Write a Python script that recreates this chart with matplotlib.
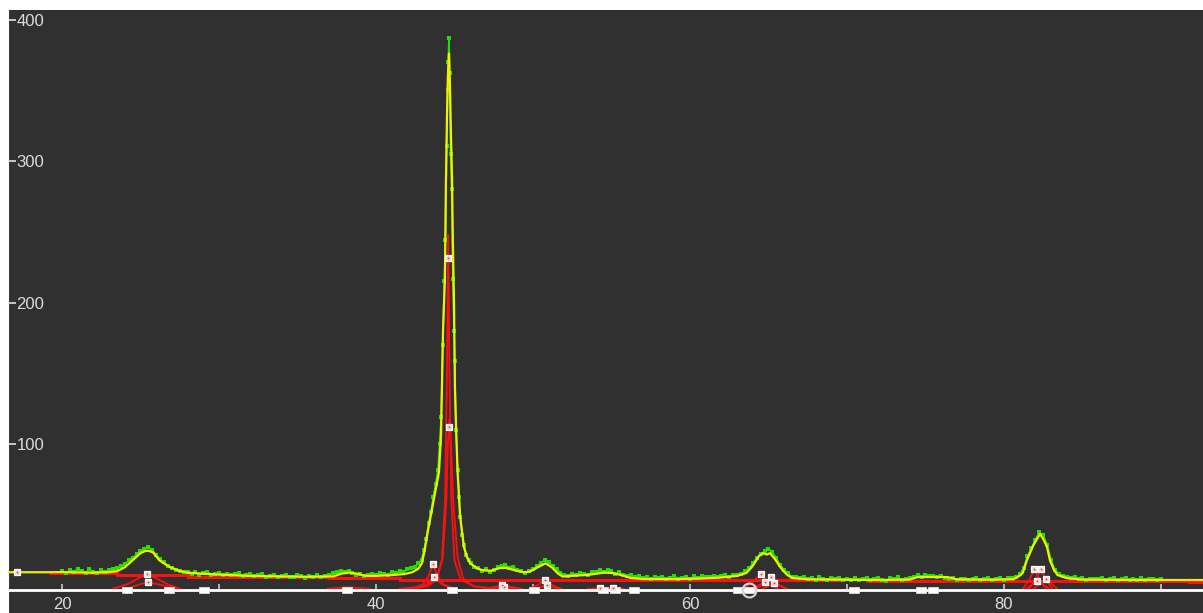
import numpy as np
import matplotlib
matplotlib.use("Agg")
from matplotlib import pyplot as plt

# fitted profile (yellow line)
fit_x = [16.5, 19.0, 20.0, 21.0, 22.0, 23.0, 23.5, 24.0, 24.3, 24.7, 25.0, 25.3, 25.5, 25.8,
         26.2, 26.6, 26.9, 27.5, 28.0, 28.8, 30.0, 32.0, 34.0, 36.0, 37.3, 37.8, 38.3, 38.8,
         39.3, 40.0, 41.0, 41.8, 42.3, 42.7, 42.93, 43.1, 43.31, 43.5, 43.7, 44.01, 44.14,
         44.27, 44.39, 44.45, 44.52, 44.58, 44.65, 44.71, 44.78, 44.84, 44.90, 44.97, 45.03,
         45.10, 45.20, 45.35, 45.48, 45.61, 45.8, 45.99, 46.4, 46.75, 47.3, 47.9, 48.3, 48.8,
         49.4, 49.8, 50.3, 50.8, 51.2, 51.6, 51.9, 52.5, 53.5, 54.5, 55.0, 55.6, 56.2, 57.0,
         59.0, 61.0, 62.0, 63.0, 63.6, 64.0, 64.4, 64.65, 64.9, 65.1, 65.4, 65.7, 65.9, 66.2,
         66.56, 67.5, 70.0, 72.0, 74.0, 74.5, 76.4, 77.0, 79.0, 80.6, 81.0, 81.2, 81.46, 81.85,
         82.1, 82.3, 82.5, 82.74, 82.93, 83.15, 83.4, 84.0, 85.0, 88.0, 92.7]
fit_y = [9.5, 9.5, 9.6, 9.4, 9.2, 9.6, 10.2, 13.0, 16.0, 20.0, 23.0, 24.5, 24.7, 23.5,
         18.0, 15.0, 13.0, 10.4, 9.2, 8.6, 7.8, 6.9, 6.5, 6.3, 6.6, 8.5, 9.2, 8.5,
         7.0, 6.9, 7.5, 8.2, 9.5, 12.0, 16.0, 25.0, 39.0, 50.0, 62.0, 80.0, 105.0,
         180.0, 216.0, 280.0, 330.0, 360.0, 376.0, 355.0, 317.0, 290.0, 241.0, 200.0, 140.0,
         112.0, 80.0, 50.0, 38.0, 27.0, 20.0, 16.0, 12.5, 11.0, 10.5, 12.5, 12.6, 11.0,
         9.5, 9.9, 13.0, 15.8, 13.0, 8.5, 6.4, 7.0, 7.6, 9.2, 9.0, 7.6, 5.5, 4.7,
         4.6, 5.2, 5.8, 6.9, 9.0, 14.0, 21.0, 23.0, 22.0, 23.0, 19.0, 14.0, 11.0, 7.5,
         5.4, 4.5, 4.2, 4.0, 4.3, 6.1, 6.1, 4.5, 4.2, 4.5, 7.0, 9.0, 18.0, 28.0,
         33.0, 36.5, 33.0, 27.6, 18.0, 12.0, 7.6, 5.4, 4.3, 4.0, 4.0]

# measured counts (green), 0.25 deg steps from 20.0 to 42.25
obs_left = [10.5, 8.7, 11.2, 9.8, 12.0, 10.3, 9.1, 11.5, 10.0, 8.8, 10.9, 9.6,
            10.8, 11.6, 12.4, 13.9, 15.6, 17.9, 19.5, 22.3, 24.8, 26.1, 27.4, 25.2, 22.0, 18.7,
            16.5, 13.9, 12.8, 11.2, 10.6, 9.8,
            9.9, 8.1, 9.4, 7.6, 8.8, 9.9, 7.9, 8.3, 9.2, 7.4, 8.6, 7.2, 8.1, 9.0, 6.9, 7.7,
            8.2, 6.5, 7.4, 8.6, 6.1, 7.0, 7.9, 5.9, 6.8, 7.6, 6.2, 5.8, 7.3, 6.6, 5.5, 7.1,
            6.4, 7.2, 5.9, 6.8, 7.5, 8.9, 9.8, 10.4, 9.6, 10.1, 8.8, 7.4, 8.2, 6.9, 7.8, 8.6,
            7.3, 9.2, 8.1, 7.6, 9.9, 8.7, 10.4, 9.5, 11.6, 12.3]
# measured counts around the main reflection
peak_obs_x = [42.5, 42.7, 42.9, 43.05, 43.2, 43.35, 43.5, 43.65, 43.8, 43.95, 44.05, 44.15,
              44.25, 44.35, 44.42, 44.5, 44.56, 44.6, 44.65, 44.7, 44.75, 44.82, 44.9, 44.97,
              45.01, 45.1, 45.2, 45.3, 45.38, 45.5, 45.6, 45.75, 45.9, 46.05, 46.25]
peak_obs_y = [13.5, 15.8, 18.5, 25.0, 33.0, 44.0, 52.0, 63.0, 72.0, 82.0, 100.0, 119.0,
              170.0, 215.0, 244.0, 311.0, 350.0, 370.0, 387.0, 362.0, 305.0, 280.0, 217.0, 180.0,
              159.0, 110.0, 82.0, 63.0, 48.6, 36.0, 29.0, 22.0, 18.0, 16.0, 13.0]
# measured counts, 0.25 deg steps from 46.5 to 90.0
obs_right = [12.4, 10.6, 11.8, 9.9, 11.3, 12.9, 13.8, 14.9, 12.6, 13.4, 11.2, 10.1, 8.8, 10.5,
             11.8, 13.9, 16.1, 18.0, 16.4, 14.2, 11.5, 9.3, 7.8, 6.9, 8.4, 7.2, 9.1, 8.0, 7.5, 9.6,
             9.9, 10.8, 9.5, 11.2, 10.1, 8.6, 9.4, 7.9, 6.6, 7.4, 5.8, 6.9, 5.5, 6.2, 4.8, 5.9,
             5.2, 6.4, 4.6, 5.6, 6.8, 4.9, 5.4, 6.1, 4.7, 6.6, 5.3, 6.9, 5.8, 6.4, 7.1, 6.0,
             6.8, 7.5, 6.3, 7.9, 7.2, 8.4, 10.1, 12.3, 15.8, 19.6, 22.5, 24.2, 26.0, 24.1, 19.3, 14.8,
             11.2, 8.8, 6.4, 5.8, 5.1, 5.9, 4.6, 5.5, 4.2, 5.8, 4.9, 3.9, 5.3, 4.4, 5.7, 4.1,
             5.0, 4.3, 5.6, 3.8, 4.7, 5.4, 3.9, 4.8, 5.5, 4.2, 3.6, 5.1, 4.5, 5.8, 4.0, 4.9,
             5.3, 6.4, 7.2, 6.0, 7.5, 6.6, 7.0, 5.9, 6.8, 5.2, 4.6, 5.5, 4.1, 5.0, 4.4, 3.9,
             4.8, 5.6, 4.0, 4.5, 5.3, 3.8, 4.9, 5.7, 4.2, 5.2, 5.2, 5.9, 8.2, 12.5, 20.8, 26.6,
             32.4, 37.8, 35.6, 28.9, 18.4, 11.2, 8.6, 6.9, 6.0, 5.4, 6.1, 4.7, 5.5, 4.2, 5.0, 4.6,
             4.4, 5.3, 3.9, 4.8, 5.6, 4.1, 4.6, 5.2, 3.8, 4.9, 4.3, 5.5, 4.0, 4.7, 4.4, 3.9, 4.6]

# stepped background (red)
bg_edges = [19.2, 23.5, 28.0, 37.0, 41.5, 69.6, 71.3, 91.8, 92.7]
bg_levels = [9.0, 7.6, 6.3, 5.4, 3.8, 4.5, 3.6, 2.8]

# fitted peak components (red), one (x, y) pair per component
comps = [
    ([23.25, 24.2, 24.9, 25.41, 25.95, 26.7, 27.52], [-2.3, 1.2, 5.5, 8.3, 5.5, 1.2, -2.3]),
    ([24.14, 24.9, 25.48, 26.2, 27.3], [-2.0, 0.8, 2.6, 0.8, -2.0]),
    ([36.9, 37.6, 38.15, 38.8, 39.6], [-2.2, -1.6, -1.0, -1.6, -2.2]),
    ([41.5, 43.0, 43.8, 44.2, 44.4, 44.52, 44.6, 44.68, 44.8, 45.0, 45.4, 46.3, 47.8],
     [-2.2, -0.5, 4, 18, 60, 150, 248, 150, 60, 18, 4, -0.5, -2.2]),
    ([42.0, 43.3, 43.9, 44.25, 44.48, 44.58, 44.68, 44.78, 44.92, 45.2, 45.55, 46.2, 47.5],
     [-2.2, -0.5, 5, 20, 60, 100, 118, 100, 60, 20, 5, -0.5, -2.2]),
    ([42.3, 43.0, 43.35, 43.63, 43.9, 44.3, 45.0], [-2.2, 1, 7, 15, 7, 1, -2.2]),
    ([42.6, 43.2, 43.7, 44.2, 44.8], [-2.2, 1, 6, 1, -2.2]),
    ([46.9, 47.6, 48.05, 48.6, 49.3], [-2.2, -0.8, 0.5, -0.8, -2.2]),
    ([47.3, 48.17, 49.0], [-2.2, -1.1, -2.2]),
    ([49.8, 50.3, 50.76, 51.2, 51.8], [-2.2, 0.5, 3.8, 0.5, -2.2]),
    ([50.1, 50.88, 51.6], [-2.2, 0.3, -2.2]),
    ([53.5, 54.27, 55.0], [-2.2, -1.8, -2.2]),
    ([54.4, 55.1, 55.8], [-2.2, -1.6, -2.2]),
    ([63.4, 64.0, 64.5, 65.0, 65.6], [-2.2, 2.5, 8.3, 2.5, -2.2]),
    ([63.9, 64.75, 65.6], [-2.2, 2.4, -2.2]),
    ([64.2, 64.7, 65.16, 65.6, 66.2], [-2.2, 1.0, 5.9, 1.0, -2.2]),
    ([64.6, 65.35, 66.1], [-2.2, 1.7, -2.2]),
    ([81.2, 81.6, 81.93, 82.3, 82.7], [-2.2, 3.5, 11.6, 3.5, -2.2]),
    ([81.6, 82.0, 82.34, 82.7, 83.1], [-2.2, 3.5, 11.6, 3.5, -2.2]),
    ([81.4, 82.12, 82.9], [-2.2, 3.5, -2.2]),
    ([81.9, 82.66, 83.4], [-2.2, 4.7, -2.2]),
]

# handles on the components / baseline
handle_x = [17.13, 25.41, 25.48, 44.57, 44.65, 43.65, 43.71, 48.05, 48.17, 50.76, 50.88,
            54.27, 55.1, 64.5, 64.75, 65.16, 65.35, 81.93, 82.34, 82.12, 82.66]
handle_y = [9.5, 8.3, 2.6, 231.8, 112.2, 15.1, 5.9, 0.5, -1.1, 3.8, 0.3,
            -1.8, -1.6, 8.3, 2.4, 5.9, 1.7, 11.6, 11.6, 3.5, 4.7]
bound_x = [24.14, 26.82, 29.04, 38.15, 44.84, 50.06, 54.46, 55.22, 56.43, 63.06, 63.76,
           70.45, 74.71, 75.48]
cursor_x = 63.76

AXIS_Y = -3.0
BG = "#303030"
FG = "#dcdcdc"

fig = plt.figure(figsize=(12.03, 6.13), dpi=100)
fig.patch.set_facecolor("white")
ax = fig.add_axes([8 / 1203, 0, 1195 / 1203, 603 / 613])
ax.set_facecolor(BG)
ax.set_xlim(16.56, 92.68)
ax.set_ylim(-19.3, 406.8)

ax.stairs(bg_levels, bg_edges, baseline=None, color="#ff1010", lw=2.2, zorder=2)

obs_x = np.concatenate([20.0 + 0.25 * np.arange(len(obs_left)), peak_obs_x,
                        46.5 + 0.25 * np.arange(len(obs_right))])
obs_y = np.concatenate([obs_left, peak_obs_y, obs_right])
# measured points: thin trace plus square dots
ax.plot(obs_x, obs_y, color="#22e000", lw=1.2, marker="s", ms=2.7, mew=0, zorder=3)

ax.plot(fit_x, fit_y, color="#f0f000", lw=1.6, zorder=4)

for cx, cy in comps:
    ax.plot(cx, cy, color="#ff1010", lw=1.3, zorder=5)

ax.axhline(AXIS_Y, color="white", lw=2, zorder=6)

bar = [(-1, -0.6), (1, -0.6), (1, 0.6), (-1, 0.6), (-1, -0.6)]
ax.plot(bound_x, [AXIS_Y] * len(bound_x), ls="none", marker=bar, ms=6.5, mfc="white",
        mec="#e8e8e8", mew=0.5, zorder=7)
ax.plot([cursor_x], [AXIS_Y], ls="none", marker="o", ms=10, mfc="none", mec="#d8d8d8",
        mew=1.5, zorder=7)
ax.plot(handle_x, handle_y, ls="none", marker="s", ms=4.3, mfc="#f4dcdc", mec="white",
        mew=0.9, zorder=8)
ax.plot(handle_x, handle_y, ls="none", marker="s", ms=1.1, mfc="#ff2020", mew=0, zorder=9)

# axes styling
for side in ["top", "right", "bottom"]:
    ax.spines[side].set_visible(False)
ax.spines["left"].set_color("white")

xt = np.arange(20, 91, 10)
ax.set_xticks(xt)
ax.set_xticklabels([str(v) if v % 20 == 0 else "" for v in xt])
ax.xaxis.set_ticks_position("bottom")
ax.spines["bottom"].set_position(("data", AXIS_Y))
ax.tick_params(axis="x", direction="in", length=4, width=1.2, color="#c8c8c8",
               labelcolor=FG, labelsize=12, pad=5)

ax.set_yticks([100, 200, 300, 400])
ax.tick_params(axis="y", direction="in", length=5.5, width=1.2, color="#e0e0e0",
               labelcolor=FG, labelsize=12, pad=-6)
for lab in ax.get_yticklabels():
    lab.set_horizontalalignment("left")
for lab in ax.get_xticklabels() + ax.get_yticklabels():
    lab.set_fontfamily("Liberation Sans")

fig.savefig("out.png", dpi=100, facecolor="white")
